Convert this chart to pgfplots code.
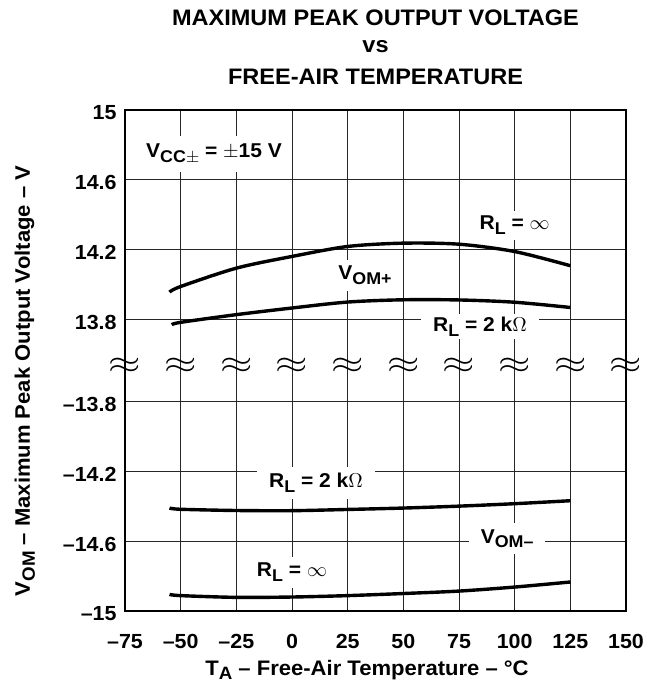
\documentclass[border=0pt]{standalone}
\usepackage{pgfplots}
\usepackage{pgfplotstable}
\pgfplotsset{compat=1.18}
\usepackage{fontspec}
\setmainfont[FakeStretch=1.05]{Liberation Sans}
\newcommand{\sub}[1]{\raisebox{-0.45ex}{\scalebox{0.85}{#1}}}
\newcommand{\brk}{\scalebox{1.9}[1.45]{$\approx$}}
\newcommand{\fntA}{\fontsize{10.5}{12}\selectfont\bfseries}
\newcommand{\fntT}{\fontsize{10.2}{12}\selectfont\bfseries}
\newcommand{\fntI}{\fontsize{10}{12}\selectfont\bfseries}
\newcommand{\fntH}{\fontsize{11.2}{13}\selectfont\bfseries}
\pgfplotstableread{
t v
-55 13.958
-50 13.990
-25 14.095
0 14.162
25 14.219
50 14.238
75 14.232
100 14.190
125 14.109
}\upinf
\pgfplotstableread{
t v
-54 13.771
-50 13.785
-25 13.829
0 13.867
25 13.901
50 13.914
75 13.913
100 13.900
125 13.870
}\uptwo
\pgfplotstableread{
t v
-55 -14.411
-50 -14.418
-25 -14.425
0 -14.426
25 -14.419
50 -14.411
75 -14.400
100 -14.386
125 -14.369
}\lotwo
\pgfplotstableread{
t v
-55 -14.905
-50 -14.912
-25 -14.922
0 -14.920
25 -14.912
50 -14.900
75 -14.886
100 -14.863
125 -14.834
}\loinf
\begin{document}
\begin{tikzpicture}[font=\fntA]
\begin{axis}[scale only axis, width=250.5pt, height=250.5pt,
  xmin=-75, xmax=150, ymin=0, ymax=2.8667, clip=false,
  xtick={-75,-50,-25,0,25,50,75,100,125,150},
  xticklabels={–75,–50,–25,0,25,50,75,100,125,150},
  ytick={0,0.4,0.8,1.2,1.6667,2.0667,2.4667,2.8667},
  yticklabels={–15,–14.6,–14.2,–13.8,13.8,14.2,14.6,15},
  grid=major, major grid style={black!85, line width=0.5pt},
  axis line style={line width=1.2pt},
  major tick length=0pt,
  xticklabel style={font=\fntT, anchor=base, yshift=-19pt},
  yticklabel style={font=\fntT, yshift=-1.5pt, xshift=-0.7pt},
]
\coordinate (SW) at (rel axis cs:0,0);
\coordinate (NE) at (rel axis cs:1,1);
\addplot[black, line width=1.7pt, smooth] table[x=t, y expr=\thisrow{v}-12.1333] {\upinf};
\addplot[black, line width=1.7pt, smooth] table[x=t, y expr=\thisrow{v}-12.1333] {\uptwo};
\addplot[black, line width=1.7pt, smooth] table[x=t, y expr=\thisrow{v}+15] {\lotwo};
\addplot[black, line width=1.7pt, smooth] table[x=t, y expr=\thisrow{v}+15] {\loinf};
\node[font=\fntI, fill=white, inner xsep=5pt, inner ysep=4pt, anchor=base] at (axis cs:-35,2.593) {V\sub{CC$\pm$} = $\pm$15 V};
\node[font=\fntI, fill=white, inner xsep=2pt, inner ysep=2.5pt, anchor=base] at (axis cs:100,2.181) {R\sub{L} = $\infty$};
\node[font=\fntI, fill=white, inner xsep=3pt, inner ysep=3pt, anchor=base] at (axis cs:32.8,1.895) {V\sub{OM+}};
\node[font=\fntI, fill=white, inner xsep=6pt, inner ysep=1.5pt, anchor=base] at (axis cs:84.4,1.60) {R\sub{L} = 2 k$\Omega$};
\node[font=\fntI, fill=white, inner xsep=6pt, inner ysep=3pt, anchor=base] at (axis cs:10.8,0.704) {R\sub{L} = 2 k$\Omega$};
\node[font=\fntI, fill=white, inner xsep=6pt, inner ysep=3pt, anchor=base] at (axis cs:96.6,0.389) {V\sub{OM–}};
\node[font=\fntI, fill=white, inner xsep=2pt, inner ysep=3pt, anchor=base] at (axis cs:0,0.195) {R\sub{L} = $\infty$};
\begin{scope}[every node/.style={inner sep=0pt}]
\node at (axis cs:-75,1.40) {\brk};
\node at (axis cs:-50,1.40) {\brk};
\node at (axis cs:-25,1.40) {\brk};
\node at (axis cs:0,1.40) {\brk};
\node at (axis cs:25,1.40) {\brk};
\node at (axis cs:50,1.40) {\brk};
\node at (axis cs:75,1.40) {\brk};
\node at (axis cs:100,1.40) {\brk};
\node at (axis cs:125,1.40) {\brk};
\node at (axis cs:150,1.40) {\brk};
\end{scope}
\end{axis}
\node[font=\fntH, anchor=base] at ([shift={(125.25pt,42pt)}]SW |- NE) {MAXIMUM PEAK OUTPUT VOLTAGE};
\node[font=\fntH, anchor=base] at ([shift={(125.25pt,28.5pt)}]SW |- NE) {vs};
\node[font=\fntH, anchor=base] at ([shift={(125.25pt,12.5pt)}]SW |- NE) {FREE-AIR TEMPERATURE};
\node[anchor=base] at ([shift={(121pt,-32pt)}]SW) {T\sub{A} – Free-Air Temperature – °C};
\node[anchor=base, rotate=90] at ([shift={(-47.5pt,115pt)}]SW) {V\sub{OM} – Maximum Peak Output Voltage – V};
\pgfresetboundingbox
\path[use as bounding box] ([shift={(-62.5pt,-36.5pt)}]SW) rectangle ([shift={(16pt,55pt)}]NE);
\end{tikzpicture}
\end{document}
